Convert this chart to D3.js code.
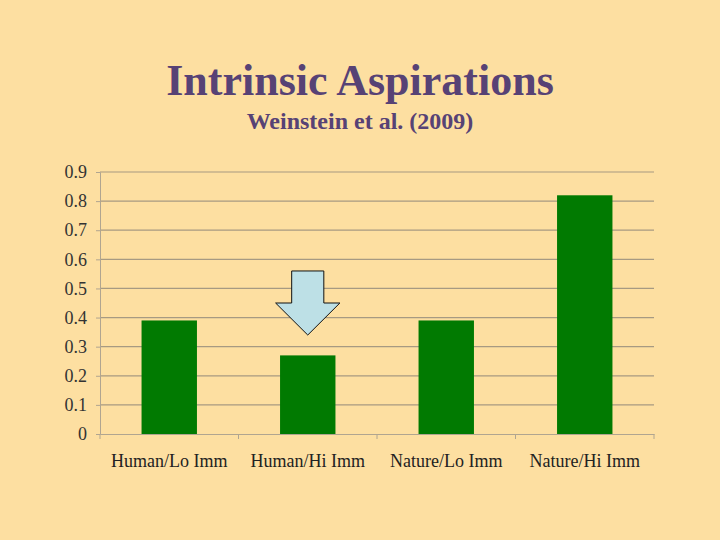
<!DOCTYPE html>
<html>
<head>
<meta charset="utf-8">
<script src="https://cdn.jsdelivr.net/npm/d3@7"></script>
<style>
  body { margin: 0; background: #fddfa1; }
  svg { display: block; }
</style>
</head>
<body>
<svg id="chart" width="720" height="540"></svg>
<script>
// data
const categories = ['Human/Lo Imm', 'Human/Hi Imm', 'Nature/Lo Imm', 'Nature/Hi Imm']
const values = [0.39, 0.27, 0.39, 0.82]
const yTicks = [0, 0.1, 0.2, 0.3, 0.4, 0.5, 0.6, 0.7, 0.8, 0.9]
const titleText = 'Intrinsic Aspirations'
const subtitleText = 'Weinstein et al. (2009)'
// arrow pointing at the second bar (top and tip as y values)
const arrowTarget = ['Human/Hi Imm']
const arrowRange = [0.56, 0.34]

const serif = "'Liberation Serif', 'Times New Roman', serif"

const svg = d3.select('#chart')
const plotLeft = 100, plotRight = 654, plotTop = 172, plotBottom = 434

const x = d3.scaleBand()
	.domain(categories)
	.range([plotLeft, plotRight])
	.paddingInner(0.6)
	.paddingOuter(0.3)

const xb = d3.scaleBand().domain(categories).range([plotLeft, plotRight])

const y = d3.scaleLinear()
	.domain([0, 0.9])
	.range([plotBottom, plotTop])

svg.append('rect')
	.attr('width', 720).attr('height', 540)
	.attr('fill', '#fddfa1')

// title
svg.append('text')
	.attr('x', 360).attr('y', 95)
	.attr('text-anchor', 'middle')
	.attr('font-family', serif)
	.attr('font-weight', 'bold')
	.attr('font-size', 44)
	.attr('fill', '#574275')
	.text(titleText)

svg.append('text')
	.attr('x', 360).attr('y', 129)
	.attr('text-anchor', 'middle')
	.attr('font-family', serif)
	.attr('font-weight', 'bold')
	.attr('font-size', 24)
	.attr('fill', '#574275')
	.text(subtitleText)

// gridlines
svg.append('g')
	.selectAll('line')
	.data(yTicks.slice(1))
	.enter()
	.append('line')
	.attr('x1', plotLeft).attr('x2', plotRight)
	.attr('y1', d => y(d)).attr('y2', d => y(d))
	.attr('stroke', '#a79a82')
	.attr('stroke-width', 1.2)

// y axis
const yAxis = svg.append('g')
	.attr('transform', 'translate(' + plotLeft + ',0)')
	.call(d3.axisLeft(y).tickValues(yTicks).tickSize(4).tickPadding(9)
		.tickFormat(d => d === 0 ? '0' : d3.format('.1f')(d)))
yAxis.select('.domain').attr('stroke', '#b0a590')
yAxis.selectAll('.tick line').attr('stroke', '#b0a590')
yAxis.selectAll('text')
	.attr('font-family', serif)
	.attr('font-size', 18)
	.attr('fill', '#333')

// x axis
const xAxis = svg.append('g')
	.attr('transform', 'translate(0,' + plotBottom + ')')
	.call(d3.axisBottom(xb).tickSize(0).tickPadding(20))
xAxis.select('.domain').attr('stroke', '#b0a590')
xAxis.selectAll('text')
	.attr('font-family', serif)
	.attr('font-size', 18)
	.attr('fill', '#222')

// category boundary ticks
svg.append('g')
	.selectAll('line')
	.data(categories.concat(['end']))
	.enter()
	.append('line')
	.attr('x1', (d, i) => i < categories.length ? xb(d) : xb.range()[1])
	.attr('x2', (d, i) => i < categories.length ? xb(d) : xb.range()[1])
	.attr('y1', plotBottom).attr('y2', plotBottom + 5)
	.attr('stroke', '#b0a590')

// bars
svg.append('g')
	.selectAll('rect')
	.data(categories)
	.enter()
	.append('rect')
	.attr('x', d => x(d))
	.attr('width', x.bandwidth())
	.attr('y', (d, i) => y(values[i]))
	.attr('height', (d, i) => y(0) - y(values[i]))
	.attr('fill', '#017a01')

// arrow
svg.append('g')
	.selectAll('path')
	.data(arrowTarget)
	.enter()
	.append('path')
	.attr('d', function(d){
		let cx = x(d) + x.bandwidth() / 2
		let yt = y(arrowRange[0]), yp = y(arrowRange[1])
		let headY = yt + (yp - yt) * 0.5
		let sw = x.bandwidth() * 0.29, hw = x.bandwidth() * 0.58
		return 'M' + (cx - sw) + ',' + yt + 'H' + (cx + sw) + 'V' + headY +
			'H' + (cx + hw) + 'L' + cx + ',' + yp + 'L' + (cx - hw) + ',' + headY +
			'H' + (cx - sw) + 'Z'
	})
	.attr('fill', '#bde0e6')
	.attr('stroke', '#111')
	.attr('stroke-width', 1)
</script>
</body>
</html>
